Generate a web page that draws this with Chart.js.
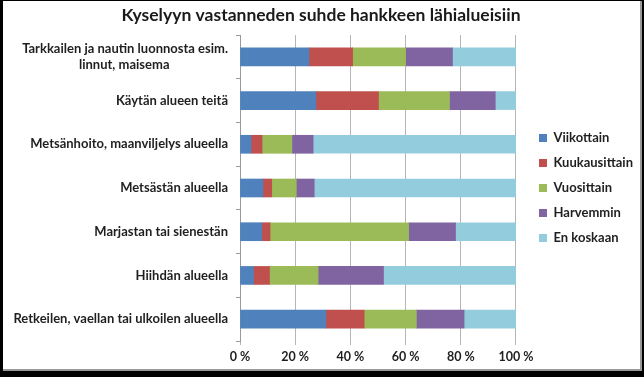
<!DOCTYPE html>
<html>
<head>
<meta charset="utf-8">
<script src="https://cdn.jsdelivr.net/npm/chart.js@4"></script>
<style>
  body { margin: 0; background: #000; }
  #frame { position: absolute; left: 3px; top: 1px; width: 637px; height: 368px; background: #fff; border-right: 2px solid #999; border-bottom: 2px solid #999; }
  #wrap { position: absolute; left: 0; top: 0; width: 644px; height: 377px; }
</style>
</head>
<body>
<div id="frame"></div>
<div id="wrap"><canvas id="chart" width="644" height="377"></canvas></div>
<script>
const titleText = 'Kyselyyn vastanneden suhde hankkeen lähialueisiin';
const categories = [
  ['Tarkkailen ja nautin luonnosta esim.', 'linnut, maisema\u2002\u2002\u2002\u2002\u2002\u2002\u2002\u2002\u2002'],
  'Käytän alueen teitä',
  'Metsänhoito, maanviljelys alueella',
  'Metsästän alueella',
  'Marjastan tai sienestän',
  'Hiihdän alueella',
  'Retkeilen, vaellan tai ulkoilen alueella'
];
const viikottain    = [25, 27.5, 4, 8.3, 7.9, 4.9, 31.1];
const kuukausittain = [15.8, 22.7, 4, 3.2, 3, 5.8, 13.9];
const vuosittain    = [19.2, 25.7, 10.8, 8.9, 50.2, 17.6, 18.9];
const harvemmin     = [17, 16.6, 7.7, 6.5, 17, 23.7, 17.3];
const enKoskaan     = [23, 7.5, 73.5, 73.1, 21.9, 48, 18.8];
const seriesNames = ['Viikottain', 'Kuukausittain', 'Vuosittain', 'Harvemmin', 'En koskaan'];
const colors = ['#4F81BD', '#C0504D', '#9BBB59', '#8064A2', '#93CDDD'];

Chart.defaults.font.family = 'Lato';
Chart.defaults.font.weight = 'bold';
Chart.defaults.color = '#1f1f1f';

// size the title so it spans about as wide as in the original
const m = document.createElement('canvas').getContext('2d');
m.font = 'bold 100px Lato';
const titleSize = Math.round(394 * 100 / m.measureText(titleText).width * 2) / 2;

// push the legend a bit further from the plot, like the original
const legendShift = {
  id: 'legendShift',
  afterUpdate(chart) {
    chart.legend.left += 11;
    chart.legend.right += 11;
    chart.legend.top += 4;
    chart.legend.bottom += 4;
  }
};

const ctx = document.getElementById('chart').getContext('2d');
new Chart(ctx, {
  type: 'bar',
  data: {
    labels: categories,
    datasets: [viikottain, kuukausittain, vuosittain, harvemmin, enKoskaan].map((d, i) => ({
      label: seriesNames[i],
      data: d,
      backgroundColor: colors[i],
      borderWidth: 0,
      barThickness: 18
    }))
  },
  options: {
    indexAxis: 'y',
    responsive: false,
    animation: false,
    layout: { padding: { left: 10, right: 12, top: 0, bottom: 9 } },
    plugins: {
      title: {
        display: true,
        text: titleText,
        font: { size: titleSize, weight: 'bold' },
        color: '#1a1a1a',
        padding: { top: 5, bottom: 9 }
      },
      legend: {
        position: 'right',
        labels: { boxWidth: 8, boxHeight: 8, padding: 12, font: { size: 13 } }
      },
      tooltip: { enabled: false }
    },
    scales: {
      x: {
        stacked: true,
        min: 0,
        max: 100,
        ticks: { stepSize: 20, padding: 4, font: { size: 12.5 }, callback: v => v + ' %' },
        grid: { color: '#b5b5b5', tickLength: 4 },
        border: { display: false }
      },
      y: {
        stacked: true,
        afterFit: s => { s.width = 230; },
        ticks: { padding: 8, font: { size: 13 } },
        grid: { drawOnChartArea: false, tickLength: 4, color: '#999' },
        border: { color: '#999' }
      }
    }
  },
  plugins: [legendShift]
});
</script>
</body>
</html>
